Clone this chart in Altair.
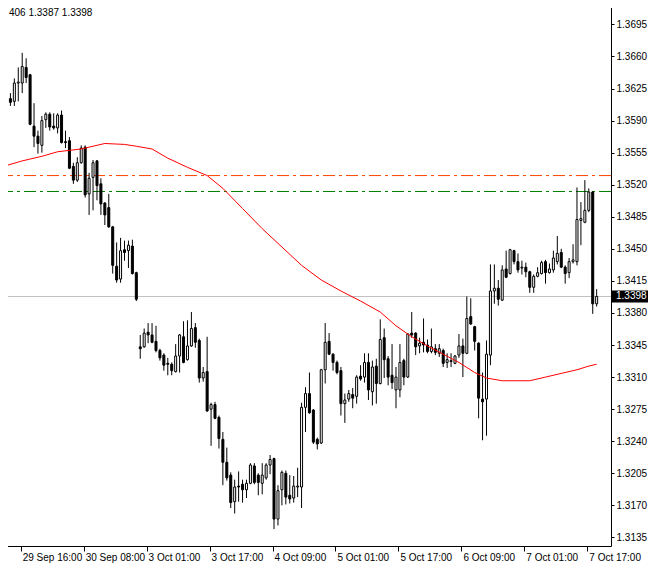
import json
import altair as alt
import pandas as pd

# ---------------- data (EURUSD H1 candles) ----------------
opens = [
    1.3656, 1.3614, 1.3611, 1.3631, 1.3631, 1.3648, 1.3640, 1.3584, 1.3573, 1.3563,
    1.3591, 1.3597, 1.3584, 1.3582, 1.3596, 1.3567, 1.3568, 1.3540, 1.3525, 1.3544,
    1.3561, 1.3510, 1.3528, 1.3546, 1.3521, 1.3500, 1.3495, 1.3474, 1.3431, 1.3417,
    1.3449, 1.3448, 1.3453, 1.3424, 1.3343, 1.3343, 1.3359, 1.3356, 1.3349, 1.3339,
    1.3334, 1.3325, 1.3324, 1.3316, 1.3333, 1.3354, 1.3329, 1.3344, 1.3364, 1.3350,
    1.3309, 1.3316, 1.3275, 1.3280, 1.3266, 1.3242, 1.3217, 1.3203, 1.3174, 1.3191,
    1.3193, 1.3187, 1.3194, 1.3213, 1.3203, 1.3194, 1.3200, 1.3214, 1.3221, 1.3155,
    1.3187, 1.3205, 1.3181, 1.3178, 1.3190, 1.3190, 1.3277, 1.3292, 1.3274, 1.3242,
    1.3238, 1.3318, 1.3349, 1.3335, 1.3326, 1.3317, 1.3281, 1.3286, 1.3291, 1.3289,
    1.3311, 1.3310, 1.3326, 1.3294, 1.3322, 1.3303, 1.3353, 1.3330, 1.3312, 1.3296,
    1.3296, 1.3328, 1.3310, 1.3358, 1.3358, 1.3344, 1.3348, 1.3345, 1.3338, 1.3341,
    1.3336, 1.3339, 1.3326, 1.3327, 1.3325, 1.3334, 1.3344, 1.3336, 1.3376, 1.3365,
    1.3347, 1.3286, 1.3286, 1.3334, 1.3404, 1.3407, 1.3394, 1.3428, 1.3423, 1.3448,
    1.3436, 1.3429, 1.3430, 1.3425, 1.3408, 1.3420, 1.3423, 1.3436, 1.3424, 1.3427,
    1.3436, 1.3446, 1.3430, 1.3424, 1.3436, 1.3436, 1.3481, 1.3479, 1.3492, 1.3512,
    1.3390,
]
highs = [
    1.3680, 1.3620, 1.3636, 1.3648, 1.3664, 1.3658, 1.3641, 1.3609, 1.3579, 1.3595,
    1.3599, 1.3599, 1.3598, 1.3598, 1.3601, 1.3579, 1.3572, 1.3544, 1.3550, 1.3563,
    1.3563, 1.3533, 1.3547, 1.3547, 1.3527, 1.3501, 1.3510, 1.3475, 1.3457, 1.3462,
    1.3459, 1.3459, 1.3460, 1.3425, 1.3356, 1.3363, 1.3369, 1.3369, 1.3366, 1.3341,
    1.3336, 1.3331, 1.3326, 1.3346, 1.3357, 1.3371, 1.3372, 1.3381, 1.3369, 1.3352,
    1.3321, 1.3354, 1.3282, 1.3283, 1.3268, 1.3250, 1.3233, 1.3206, 1.3198, 1.3207,
    1.3198, 1.3198, 1.3216, 1.3216, 1.3205, 1.3216, 1.3216, 1.3225, 1.3222, 1.3192,
    1.3208, 1.3208, 1.3203, 1.3202, 1.3211, 1.3282, 1.3299, 1.3315, 1.3275, 1.3244,
    1.3319, 1.3369, 1.3358, 1.3336, 1.3328, 1.3321, 1.3292, 1.3296, 1.3298, 1.3312,
    1.3323, 1.3336, 1.3336, 1.3328, 1.3330, 1.3373, 1.3363, 1.3333, 1.3346, 1.3321,
    1.3346, 1.3330, 1.3358, 1.3381, 1.3359, 1.3353, 1.3374, 1.3351, 1.3363, 1.3346,
    1.3346, 1.3341, 1.3336, 1.3336, 1.3334, 1.3357, 1.3352, 1.3398, 1.3396, 1.3366,
    1.3348, 1.3315, 1.3350, 1.3433, 1.3433, 1.3416, 1.3432, 1.3448, 1.3450, 1.3449,
    1.3445, 1.3437, 1.3435, 1.3426, 1.3422, 1.3430, 1.3437, 1.3438, 1.3434, 1.3448,
    1.3464, 1.3450, 1.3432, 1.3440, 1.3455, 1.3517, 1.3501, 1.3525, 1.3516, 1.3513,
    1.3406,
]
lows = [
    1.3612, 1.3606, 1.3606, 1.3611, 1.3620, 1.3631, 1.3585, 1.3561, 1.3554, 1.3555,
    1.3582, 1.3579, 1.3580, 1.3576, 1.3565, 1.3560, 1.3537, 1.3521, 1.3523, 1.3543,
    1.3506, 1.3487, 1.3492, 1.3503, 1.3487, 1.3476, 1.3473, 1.3423, 1.3413, 1.3413,
    1.3437, 1.3429, 1.3422, 1.3393, 1.3330, 1.3342, 1.3347, 1.3347, 1.3337, 1.3328,
    1.3317, 1.3312, 1.3312, 1.3315, 1.3315, 1.3325, 1.3328, 1.3343, 1.3342, 1.3304,
    1.3305, 1.3272, 1.3235, 1.3264, 1.3232, 1.3192, 1.3197, 1.3167, 1.3161, 1.3174,
    1.3173, 1.3178, 1.3193, 1.3193, 1.3181, 1.3182, 1.3198, 1.3204, 1.3144, 1.3148,
    1.3170, 1.3171, 1.3172, 1.3173, 1.3179, 1.3167, 1.3250, 1.3270, 1.3237, 1.3231,
    1.3237, 1.3303, 1.3334, 1.3317, 1.3313, 1.3268, 1.3260, 1.3283, 1.3276, 1.3281,
    1.3306, 1.3304, 1.3285, 1.3279, 1.3281, 1.3302, 1.3309, 1.3301, 1.3297, 1.3276,
    1.3288, 1.3301, 1.3309, 1.3353, 1.3334, 1.3336, 1.3337, 1.3336, 1.3336, 1.3334,
    1.3332, 1.3321, 1.3320, 1.3321, 1.3324, 1.3331, 1.3310, 1.3335, 1.3367, 1.3339,
    1.3265, 1.3241, 1.3246, 1.3323, 1.3390, 1.3388, 1.3393, 1.3418, 1.3422, 1.3433,
    1.3424, 1.3422, 1.3419, 1.3402, 1.3402, 1.3419, 1.3422, 1.3412, 1.3423, 1.3424,
    1.3433, 1.3429, 1.3412, 1.3418, 1.3434, 1.3432, 1.3454, 1.3478, 1.3490, 1.3379,
    1.3387,
]
closes = [
    1.3614, 1.3610, 1.3631, 1.3632, 1.3649, 1.3637, 1.3586, 1.3573, 1.3565, 1.3590,
    1.3597, 1.3583, 1.3582, 1.3596, 1.3566, 1.3566, 1.3538, 1.3525, 1.3544, 1.3560,
    1.3509, 1.3527, 1.3544, 1.3519, 1.3499, 1.3487, 1.3474, 1.3432, 1.3416, 1.3448,
    1.3446, 1.3454, 1.3423, 1.3395, 1.3341, 1.3358, 1.3356, 1.3348, 1.3339, 1.3331,
    1.3323, 1.3324, 1.3317, 1.3333, 1.3356, 1.3326, 1.3344, 1.3363, 1.3348, 1.3309,
    1.3315, 1.3273, 1.3280, 1.3265, 1.3243, 1.3217, 1.3200, 1.3173, 1.3190, 1.3190,
    1.3187, 1.3194, 1.3214, 1.3195, 1.3195, 1.3203, 1.3214, 1.3220, 1.3155, 1.3186,
    1.3206, 1.3179, 1.3177, 1.3191, 1.3191, 1.3277, 1.3292, 1.3271, 1.3239, 1.3237,
    1.3318, 1.3348, 1.3335, 1.3326, 1.3315, 1.3281, 1.3285, 1.3292, 1.3287, 1.3310,
    1.3308, 1.3326, 1.3296, 1.3321, 1.3303, 1.3351, 1.3329, 1.3310, 1.3304, 1.3310,
    1.3326, 1.3310, 1.3357, 1.3356, 1.3343, 1.3347, 1.3345, 1.3338, 1.3343, 1.3337,
    1.3341, 1.3325, 1.3329, 1.3328, 1.3333, 1.3344, 1.3336, 1.3374, 1.3368, 1.3349,
    1.3287, 1.3283, 1.3335, 1.3404, 1.3407, 1.3395, 1.3427, 1.3419, 1.3449, 1.3436,
    1.3427, 1.3430, 1.3425, 1.3408, 1.3420, 1.3424, 1.3435, 1.3424, 1.3428, 1.3440,
    1.3445, 1.3430, 1.3423, 1.3436, 1.3438, 1.3482, 1.3483, 1.3492, 1.3512, 1.3390,
    1.3398,
]

# moving average (red line), bar index -> value
ma_idx = [0, 4, 6, 9, 13, 19, 25, 30, 33, 37, 41, 46, 51, 55, 60, 65, 70, 75, 80, 85,
          90, 95, 99, 103, 107, 111, 115, 119, 122, 126, 130, 133, 137, 141, 145, 148, 150]
ma_val = [1.3541, 1.3546, 1.3548, 1.3551, 1.3556, 1.3559, 1.3565, 1.3564, 1.3562, 1.3559,
          1.3549, 1.3539, 1.3530, 1.3516, 1.3494, 1.3472, 1.3452, 1.3432, 1.3416, 1.3404,
          1.3393, 1.3381, 1.3366, 1.3354, 1.3344, 1.3335, 1.3326, 1.3315, 1.3309, 1.3306,
          1.3306, 1.3306, 1.3310, 1.3314, 1.3318, 1.3322, 1.3324]

level_prices = [1.3530, 1.35126]
level_names = ["upper", "lower"]
level_colors = ["#FF4500", "#008000"]
last_price = 1.3398

y_ticks = [1.3135, 1.3170, 1.3205, 1.3240, 1.3275, 1.3310, 1.3345, 1.3380, 1.3415,
           1.3450, 1.3485, 1.3520, 1.3555, 1.3590, 1.3625, 1.3660, 1.3695]
tick_idx = [4, 20, 36, 52, 68, 84, 100, 116, 132, 148]
tick_labels = ["29 Sep 16:00", "30 Sep 08:00", "3 Oct 01:00", "3 Oct 17:00", "4 Oct 09:00",
               "5 Oct 01:00", "5 Oct 17:00", "6 Oct 09:00", "7 Oct 01:00", "7 Oct 17:00"]
header_text = "406 1.3387 1.3398"

# ---------------- chart ----------------
FONT = "Liberation Sans"
FS = 10
W, H = 611, 546

df = pd.DataFrame({"idx": list(range(len(opens))), "open": opens, "high": highs,
                   "low": lows, "close": closes})
df_ma = pd.DataFrame({"idx": ma_idx, "ma": ma_val})
df_lv = pd.DataFrame({"price": level_prices, "name": level_names})
df_last = pd.DataFrame({"price": [last_price], "label": [f"{last_price:.4f}"]})
df_head = pd.DataFrame({"t": [header_text]})

xs = alt.Scale(domain=[-0.375, 152.375], nice=False, zero=False)
ys = alt.Scale(domain=[1.31256, 1.372165], nice=False, zero=False)

label_expr = (json.dumps(tick_labels).replace('"', "'") +
              "[indexof(" + json.dumps(tick_idx) + ", datum.value)]")

x_axis = alt.Axis(values=tick_idx, labelExpr=label_expr, orient="bottom", title=None,
                  grid=False, tickOffset=-1.5, labelOffset=1.5, labelAlign="left",
                  labelBaseline="top", tickSize=5, labelPadding=1, domainColor="black",
                  tickColor="black", labelColor="black", labelFont=FONT, labelFontSize=FS,
                  labelOverlap=False, labelFlush=False, labelBound=False)
y_axis = alt.Axis(values=y_ticks, format=".4f", orient="right", title=None, grid=False,
                  tickSize=3, labelPadding=2, domainColor="black", tickColor="black",
                  labelColor="black", labelFont=FONT, labelFontSize=FS, tickCount=40,
                  labelOverlap=False, labelFlush=False, labelBound=False)

levels = alt.Chart(df_lv).mark_rule(strokeWidth=1, strokeDash=[12, 4, 3, 4]).encode(
    y=alt.Y("price:Q", scale=ys, axis=y_axis),
    color=alt.Color("name:N", scale=alt.Scale(domain=level_names, range=level_colors),
                    legend=None))

last_line = alt.Chart(df_last).mark_rule(color="#c0c0c0", strokeWidth=1).encode(
    y=alt.Y("price:Q", scale=ys, axis=y_axis))

wicks = alt.Chart(df).mark_rule(color="black", strokeWidth=1).encode(
    x=alt.X("idx:Q", scale=xs, axis=x_axis),
    y=alt.Y("low:Q", scale=ys, axis=y_axis),
    y2="high:Q")

bodies = alt.Chart(df).mark_bar(width=2, stroke="black", strokeWidth=1).encode(
    x=alt.X("idx:Q", scale=xs, axis=x_axis),
    y=alt.Y("open:Q", scale=ys, axis=y_axis),
    y2="close:Q",
    fill=alt.condition("datum.close >= datum.open", alt.value("white"), alt.value("black")))

ma_line = alt.Chart(df_ma).mark_line(color="#FF0000", strokeWidth=1).encode(
    x=alt.X("idx:Q", scale=xs, axis=x_axis),
    y=alt.Y("ma:Q", scale=ys, axis=y_axis))

box = alt.Chart(df_last).mark_rule(color="black", strokeWidth=12).encode(
    y=alt.Y("price:Q", scale=ys, axis=y_axis), x=alt.value(612), x2=alt.value(648))

box_text = alt.Chart(df_last).mark_text(align="left", baseline="middle", color="white",
                                        font=FONT, fontSize=FS).encode(
    y=alt.Y("price:Q", scale=ys, axis=y_axis), x=alt.value(616), text="label:N")

header = alt.Chart(df_head).mark_text(align="left", baseline="middle", color="black",
                                      font=FONT, fontSize=FS).encode(
    x=alt.value(9), y=alt.value(13), text="t:N")

chart = alt.layer(levels, last_line, wicks, bodies, ma_line, box, box_text, header).properties(
    width=W, height=H,
    autosize=alt.AutoSizeParams(type="none"),
    padding={"left": -8, "top": -8, "right": 37, "bottom": 17},
    background="white",
).configure_view(stroke=None)

chart.save("out.html", embed_options={"renderer": "svg", "actions": False})
